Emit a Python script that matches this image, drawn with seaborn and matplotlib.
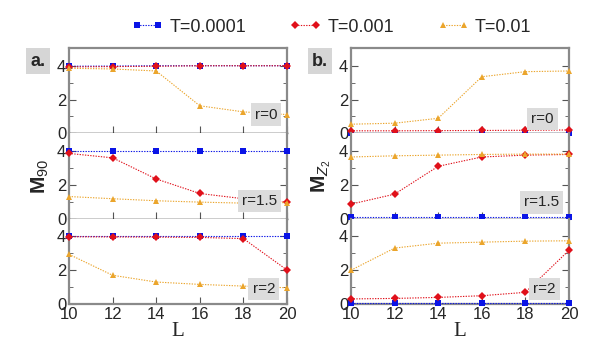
import numpy as np
import pandas as pd
import matplotlib.pyplot as plt
import seaborn as sns

# ================================================================================
# Data
# ================================================================================
L_VALUES = [10, 12, 14, 16, 18, 20]
T_LABELS = ["T=0.0001", "T=0.001", "T=0.01"]
R_LABELS = ["r=0", "r=1.5", "r=2"]

# Panel a: M_90
M90_R0_T1   = [3.97, 3.98, 4.00, 4.00, 4.00, 4.00]
M90_R0_T2   = [3.93, 3.95, 3.97, 4.00, 4.00, 4.00]
M90_R0_T3   = [3.85, 3.81, 3.69, 1.63, 1.27, 1.11]
M90_R15_T1  = [4.00, 4.00, 4.00, 4.00, 4.00, 4.00]
M90_R15_T2  = [3.86, 3.60, 2.35, 1.49, 1.18, 0.98]
M90_R15_T3  = [1.31, 1.18, 1.06, 0.98, 0.92, 0.95]
M90_R2_T1   = [4.00, 4.00, 4.00, 4.00, 4.00, 4.00]
M90_R2_T2   = [3.98, 3.97, 3.96, 3.94, 3.87, 2.01]
M90_R2_T3   = [2.94, 1.70, 1.30, 1.16, 1.06, 0.96]

# Panel b: M_Z2
MZ2_R0_T1   = [0.03, 0.03, 0.03, 0.03, 0.03, 0.03]
MZ2_R0_T2   = [0.15, 0.15, 0.16, 0.17, 0.18, 0.20]
MZ2_R0_T3   = [0.54, 0.60, 0.89, 3.35, 3.65, 3.69]
MZ2_R15_T1  = [0.08, 0.08, 0.08, 0.08, 0.08, 0.08]
MZ2_R15_T2  = [0.86, 1.45, 3.10, 3.65, 3.76, 3.80]
MZ2_R15_T3  = [3.65, 3.72, 3.76, 3.80, 3.82, 3.82]
MZ2_R2_T1   = [0.03, 0.03, 0.03, 0.03, 0.03, 0.03]
MZ2_R2_T2   = [0.30, 0.33, 0.39, 0.49, 0.69, 3.18]
MZ2_R2_T3   = [2.00, 3.31, 3.60, 3.66, 3.72, 3.74]

PANELS = {
    "a": [[M90_R0_T1, M90_R0_T2, M90_R0_T3],
          [M90_R15_T1, M90_R15_T2, M90_R15_T3],
          [M90_R2_T1, M90_R2_T2, M90_R2_T3]],
    "b": [[MZ2_R0_T1, MZ2_R0_T2, MZ2_R0_T3],
          [MZ2_R15_T1, MZ2_R15_T2, MZ2_R15_T3],
          [MZ2_R2_T1, MZ2_R2_T2, MZ2_R2_T3]],
}

# --------------------------------------------------------------------------------
# Styling
# --------------------------------------------------------------------------------
sns.set_style("ticks")
plt.rcParams["font.family"] = ["Liberation Sans", "DejaVu Sans"]
plt.rcParams["mathtext.fontset"] = "custom"
plt.rcParams["mathtext.rm"] = "Liberation Sans"
plt.rcParams["mathtext.it"] = "Liberation Sans:italic"
plt.rcParams["mathtext.bf"] = "Liberation Sans:weight=bold"

PALETTE = {"T=0.0001": "#0a14e6", "T=0.001": "#e0101a", "T=0.01": "#eba52c"}
MARKERS = {"T=0.0001": "s", "T=0.001": "D", "T=0.01": "^"}
DASHES  = {t: (1.2, 1.2) for t in T_LABELS}
SPINE_GREY = "#8a8a8a"

fig = plt.figure(figsize=(6.08, 3.54), dpi=100)

LEFTS  = {"a": 69 / 608, "b": 351 / 608}
WIDTH  = 218 / 608
TOP    = 1 - 48 / 354
ROW_H  = (256 / 3) / 354
R_POS  = {"a": [(0.955, 0.22), (0.955, 0.21), (0.945, 0.18)],
          "b": [(0.93, 0.17), (0.955, 0.19), (0.94, 0.18)]}
YLABEL = {"a": r"$\mathbf{M}_{\mathrm{90}}$", "b": r"$\mathbf{M}_{Z_2}$"}

axes = {}
for panel, rows in PANELS.items():
    for i, series in enumerate(rows):
        ax = fig.add_axes([LEFTS[panel], TOP - (i + 1) * ROW_H, WIDTH, ROW_H])
        axes[(panel, i)] = ax
        df = pd.DataFrame({
            "L": np.tile(L_VALUES, len(T_LABELS)),
            "M": np.concatenate(series),
            "T": np.repeat(T_LABELS, len(L_VALUES)),
        })
        sns.lineplot(data=df, x="L", y="M", hue="T", style="T", ax=ax,
            palette    = PALETTE,
            markers    = MARKERS,
            dashes     = DASHES,
            linewidth  = 0.8,
            markersize = 4.3,
            markeredgewidth = 0,
            clip_on    = False,
            zorder     = 3,
        )
        if not (panel == "a" and i == 0):
            ax.get_legend().remove()

        ax.set_xlim(10, 20)
        ax.set_ylim(0, 5.05)
        ax.set_xticks(L_VALUES)
        ax.set_yticks([0, 2, 4])
        ax.set_yticks([1, 3], minor=True)
        ax.tick_params(axis="both", which="major", direction="in", length=5,
                       labelsize=12, pad=2, right=True, color="#555555")
        ax.tick_params(axis="y", which="minor", direction="in", length=3,
                       right=True, color="#555555")
        ax.set_xlabel("")
        ax.set_ylabel("")
        if i < 2:
            ax.tick_params(axis="x", labelbottom=False)
        else:
            ax.set_xlabel("L", fontfamily="Liberation Serif", fontsize=15, labelpad=0)

        for side in ["left", "right", "top"]:
            ax.spines[side].set_color(SPINE_GREY)
            ax.spines[side].set_linewidth(1.6)
        ax.spines["bottom"].set_color("black" if i < 2 else SPINE_GREY)
        ax.spines["bottom"].set_linewidth(1.0 if i < 2 else 1.6)
        ax.spines["top"].set_visible(i == 0)

        # r label
        rx, ry = R_POS[panel][i]
        ax.text(rx, ry, R_LABELS[i], transform=ax.transAxes, ha="right", va="center",
                fontsize=11, zorder=5,
                bbox={"facecolor": "#dcdcdc", "edgecolor": "none", "pad": 3})

    # Panel y label and letter
    axes[(panel, 1)].set_ylabel(YLABEL[panel], fontsize=15, labelpad=4)
    fig.text(LEFTS[panel] - 31 / 608, 1 - 61 / 354, f"{panel}.", fontsize=13,
             fontweight="bold", ha="center", va="center",
             bbox={"facecolor": "#d6d6d6", "edgecolor": "none", "pad": 3})

# --------------------------------------------------------------------------------
# Combined Legend
# --------------------------------------------------------------------------------
leg_ax = axes[("a", 0)]
handles, labels = leg_ax.get_legend_handles_labels()
leg_ax.get_legend().remove()
fig.legend(handles, labels,
    loc            = "center",
    bbox_to_anchor = (0.545, 1 - 27 / 354),
    ncol           = 3,
    frameon        = False,
    fontsize       = 13,
    numpoints      = 2,
    handlelength   = 1.8,
    handletextpad  = 0.3,
    columnspacing  = 2.4,
)

fig.savefig("out.png", dpi=100)
